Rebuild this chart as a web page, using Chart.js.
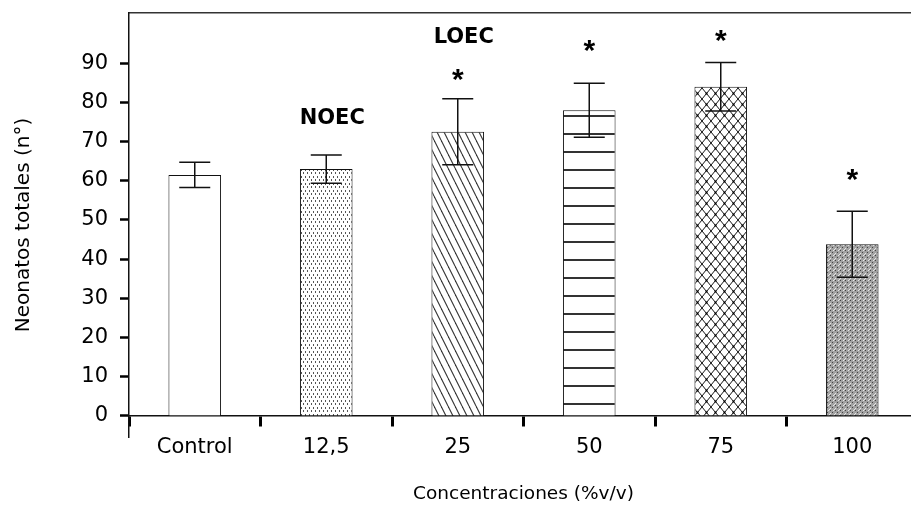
<!DOCTYPE html>
<html>
<head>
<meta charset="utf-8">
<script src="https://cdn.jsdelivr.net/npm/chart.js@4.4.1/dist/chart.umd.min.js"></script>
<style>
  html, body { margin: 0; padding: 0; background: #fff; overflow: hidden; }
  #wrap { width: 925px; height: 508px; }
</style>
</head>
<body>
<div id="wrap"><canvas id="neonatos" width="925" height="508"></canvas></div>
<script>
// Neonatos totales por concentración (media ± desviación)

const CATEGORIES = ['Control', '12,5', '25', '50', '75', '100'];
const MEANS      = [61.5, 63.0, 72.5, 78.0, 84.0, 43.8];
const ERRORS     = [3.2, 3.6, 8.4, 6.9, 6.2, 8.4];
const Y_TICKS    = [0, 10, 20, 30, 40, 50, 60, 70, 80, 90];

// texto sobre cada barra y la altura (en unidades del eje) donde va
const TAGS       = ['', 'NOEC', 'LOEC', '', '', ''];
const TAG_Y      = [null, 76.0, 96.5, null, null, null];
const STARS      = ['', '', '*', '*', '*', '*'];
const STAR_Y     = [null, null, 86.5, 93.9, 96.4, 61.0];

const FONT = '"DejaVu Sans", Verdana, sans-serif';
const STAR_FONT = '"Liberation Sans", Arial, sans-serif';

function makePattern(w, h, paint) {
  const c = document.createElement('canvas');
  c.width = w; c.height = h;
  const g = c.getContext('2d');
  g.fillStyle = '#fff';
  g.fillRect(0, 0, w, h);
  paint(g, w, h);
  return document.getElementById('neonatos').getContext('2d').createPattern(c, 'repeat');
}

// rellenos de cada barra
const fills = [
  '#ffffff',
  makePattern(4, 7, (g) => {            // punteado
    g.fillStyle = '#555';
    g.fillRect(1, 1, 1, 2);
    g.fillRect(3, 4, 1, 2);
  }),
  makePattern(7, 14, (g) => {           // diagonales
    g.strokeStyle = '#333';
    g.lineWidth = 1.1;
    [-7, 0, 7].forEach(dx => {
      g.beginPath(); g.moveTo(dx, 0); g.lineTo(dx + 7, 14); g.stroke();
    });
  }),
  makePattern(8, 18, (g) => {           // horizontales
    g.fillStyle = '#333';
    g.fillRect(0, 7, 8, 2);
  }),
  makePattern(9, 11, (g) => {           // malla
    g.strokeStyle = '#111';
    g.lineWidth = 1.0;
    g.beginPath(); g.moveTo(0, 0); g.lineTo(9, 11); g.stroke();
    g.beginPath(); g.moveTo(9, 0); g.lineTo(0, 11); g.stroke();
    g.fillStyle = '#000';
    g.fillRect(3.5, 4.5, 2, 2);
  }),
  makePattern(5, 5, (g) => {            // trama gris densa
    g.fillStyle = '#a2a2a2';
    g.fillRect(0, 0, 5, 5);
    g.fillStyle = '#444';
    g.fillRect(0, 0, 1, 1);
    g.fillRect(2, 2, 1, 1);
    g.fillStyle = '#e6e6e6';
    g.fillRect(3, 0, 1, 1);
    g.fillRect(0, 3, 1, 1);
    g.fillRect(4, 4, 1, 1);
  })
];

const errorBars = {
  id: 'errorBars',
  afterDatasetsDraw(chart) {
    const { ctx } = chart;
    const y = chart.scales.y;
    const meta = chart.getDatasetMeta(0);
    ctx.save();
    ctx.strokeStyle = '#111';
    ctx.lineWidth = 1.5;
    meta.data.forEach((bar, i) => {
      const top = y.getPixelForValue(MEANS[i] + ERRORS[i]);
      const bot = y.getPixelForValue(MEANS[i] - ERRORS[i]);
      const half = 15.5;
      ctx.beginPath();
      ctx.moveTo(bar.x, top); ctx.lineTo(bar.x, bot);
      ctx.moveTo(bar.x - half, top); ctx.lineTo(bar.x + half, top);
      ctx.moveTo(bar.x - half, bot); ctx.lineTo(bar.x + half, bot);
      ctx.stroke();
    });
    ctx.restore();
  }
};

const barTags = {
  id: 'barTags',
  afterDatasetsDraw(chart) {
    const { ctx } = chart;
    const y = chart.scales.y;
    const meta = chart.getDatasetMeta(0);
    ctx.save();
    ctx.fillStyle = '#000';
    ctx.textAlign = 'center';
    ctx.textBaseline = 'middle';
    meta.data.forEach((bar, i) => {
      if (TAGS[i]) {
        ctx.font = 'bold 21px ' + FONT;
        ctx.fillText(TAGS[i], bar.x + 6, y.getPixelForValue(TAG_Y[i]));
      }
      if (STARS[i]) {
        ctx.font = 'bold 30px ' + STAR_FONT;
        ctx.fillText(STARS[i], bar.x, y.getPixelForValue(STAR_Y[i]) + 4);
      }
    });
    ctx.restore();
  }
};

new Chart(document.getElementById('neonatos'), {
  type: 'bar',
  data: {
    labels: CATEGORIES,
    datasets: [{
      data: MEANS,
      backgroundColor: fills,
      borderColor: '#111',
      borderWidth: 1,
      borderSkipped: 'start',
      categoryPercentage: 1.0,
      barPercentage: 0.4
    }]
  },
  options: {
    responsive: false,
    animation: false,
    devicePixelRatio: 1,
    layout: { padding: { top: 13, right: 7, bottom: 71, left: 0 } },
    plugins: { legend: { display: false }, tooltip: { enabled: false } },
    scales: {
      x: {
        position: { y: 0 },
        offset: true,
        grid: { offset: true, drawOnChartArea: false, tickLength: 10, tickWidth: 3, tickColor: '#000' },
        border: { color: '#111', width: 1.5 },
        ticks: { color: '#000', padding: 9, font: { family: FONT, size: 21 } },
        title: {
          display: true,
          text: 'Concentraciones (%v/v)',
          color: '#000',
          padding: { top: 0, bottom: 2 },
          font: { family: FONT, size: 18.5 }
        },
        afterFit: (s) => { s.height = 91; s.paddingLeft = 0; s.paddingRight = 0; }
      },
      xTop: {
        type: 'category',
        position: 'top',
        offset: true,
        grid: { display: false },
        ticks: { display: false },
        border: { color: '#333', width: 1.5 },
        afterFit: (s) => { s.height = 0; }
      },
      y: {
        min: -5.36,
        max: 102.8,
        grid: { drawOnChartArea: false, tickLength: 9, tickWidth: 2.5, tickColor: '#000' },
        border: { color: '#111', width: 1.5 },
        ticks: { stepSize: 10, color: '#000', padding: 12, font: { family: FONT, size: 21 } },
        afterBuildTicks: (s) => { s.ticks = Y_TICKS.map(v => ({ value: v })); },
        title: {
          display: true,
          text: 'Neonatos totales (n°)',
          color: '#000',
          padding: { top: 12, bottom: 0 },
          font: { family: FONT, size: 20 }
        },
        afterFit: (s) => { s.width = 129; s.paddingTop = 0; s.paddingBottom = 0; }
      }
    }
  },
  plugins: [errorBars, barTags]
});
</script>
</body>
</html>
